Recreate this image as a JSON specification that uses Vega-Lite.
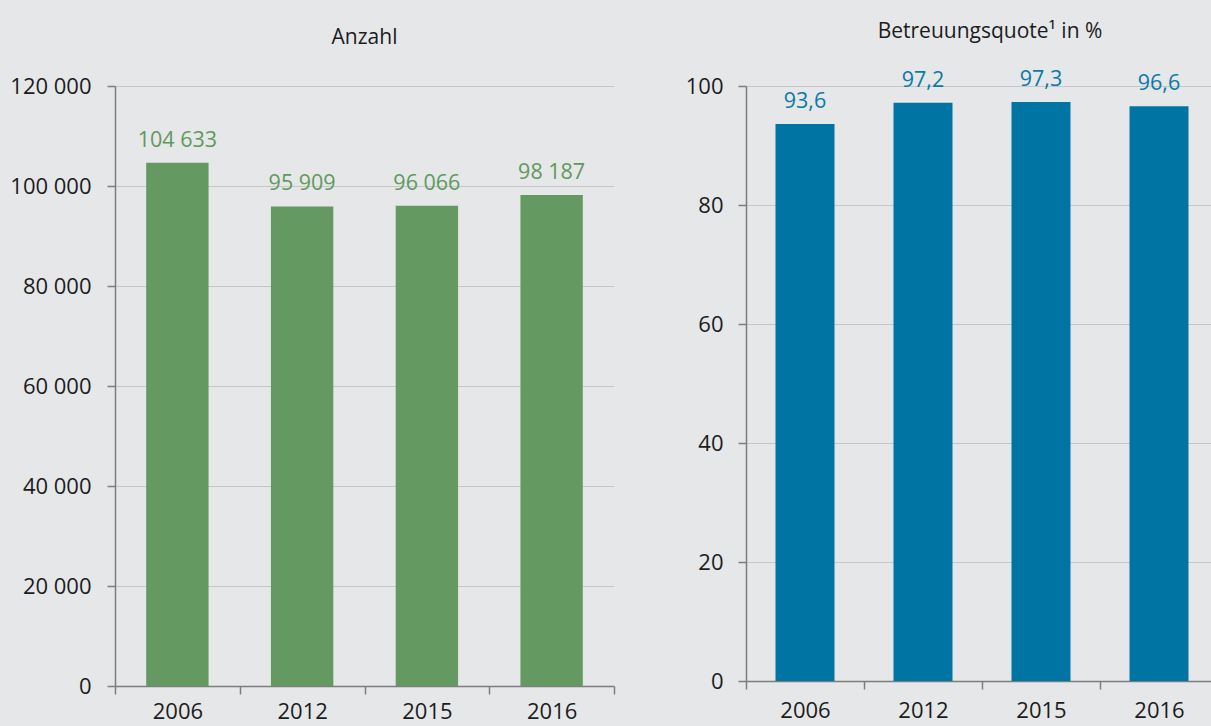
{
  "$schema": "https://vega.github.io/schema/vega-lite/v6.json",
  "background": "#e6e7e9",
  "padding": {"left": 0, "top": 21, "right": -7, "bottom": 4},
  "bounds": "flush",
  "spacing": 132,
  "config": {
    "locale": {"number": {"decimal": ",", "thousands": " ", "grouping": [3], "currency": ["", " €"]}},
    "view": {"stroke": null},
    "font": "Open Sans",
    "axis": {
      "labelFont": "Open Sans",
      "labelFontSize": 22,
      "labelColor": "#1c1c1c",
      "domainColor": "#7d7d7d",
      "domainWidth": 1.5,
      "tickColor": "#7d7d7d",
      "tickWidth": 1.5,
      "tickSize": 8,
      "gridColor": "#c6c6c8",
      "gridWidth": 1,
      "title": null
    },
    "title": {"font": "Open Sans", "fontSize": 21, "fontWeight": "normal", "color": "#1c1c1c", "anchor": "middle", "frame": "group", "baseline": "alphabetic"}
  },
  "hconcat": [
    {
      "title": {"text": "Anzahl", "offset": 27},
      "width": 499,
      "height": 600,
      "data": {"values": [
        {"jahr": "2006", "anzahl": 104633},
        {"jahr": "2012", "anzahl": 95909},
        {"jahr": "2015", "anzahl": 96066},
        {"jahr": "2016", "anzahl": 98187}
      ]},
      "encoding": {
        "x": {"field": "jahr", "type": "nominal", "sort": null,
              "scale": {"paddingInner": 0, "paddingOuter": 0},
              "axis": {"labelAngle": 0, "tickBand": "extent", "grid": false, "labelPadding": 7}},
        "y": {"field": "anzahl", "type": "quantitative",
              "scale": {"domain": [0, 120000], "nice": false},
              "axis": {"values": [0, 20000, 40000, 60000, 80000, 100000, 120000], "format": ",.0f", "labelPadding": 16, "minExtent": 115, "maxExtent": 115, "grid": true}}
      },
      "layer": [
        {"mark": {"type": "bar", "color": "#649a62", "width": {"band": 0.5}}},
        {"mark": {"type": "text", "color": "#5e9a5c", "fontSize": 21.5, "baseline": "alphabetic", "dy": -16},
         "encoding": {"text": {"field": "anzahl", "type": "quantitative", "format": ",.0f"}}}
      ]
    },
    {
      "title": {"text": "Betreuungsquote¹ in %", "offset": 27, "dx": 8},
      "width": 472,
      "height": 595,
      "data": {"values": [
        {"jahr": "2006", "quote": 93.6},
        {"jahr": "2012", "quote": 97.2},
        {"jahr": "2015", "quote": 97.3},
        {"jahr": "2016", "quote": 96.6}
      ]},
      "encoding": {
        "x": {"field": "jahr", "type": "nominal", "sort": null,
              "scale": {"paddingInner": 0, "paddingOuter": 0},
              "axis": {"labelAngle": 0, "tickBand": "extent", "grid": false, "labelPadding": 11}},
        "y": {"field": "quote", "type": "quantitative",
              "scale": {"domain": [0, 100], "nice": false},
              "axis": {"values": [0, 20, 40, 60, 80, 100], "format": "d", "labelPadding": 15, "minExtent": 60, "maxExtent": 60, "grid": true}}
      },
      "layer": [
        {"mark": {"type": "bar", "color": "#0075a4", "width": {"band": 0.5}}},
        {"mark": {"type": "text", "color": "#0a7aa8", "fontSize": 21.5, "baseline": "alphabetic", "dy": -16},
         "encoding": {"text": {"field": "quote", "type": "quantitative", "format": ".1f"}}}
      ]
    }
  ]
}
